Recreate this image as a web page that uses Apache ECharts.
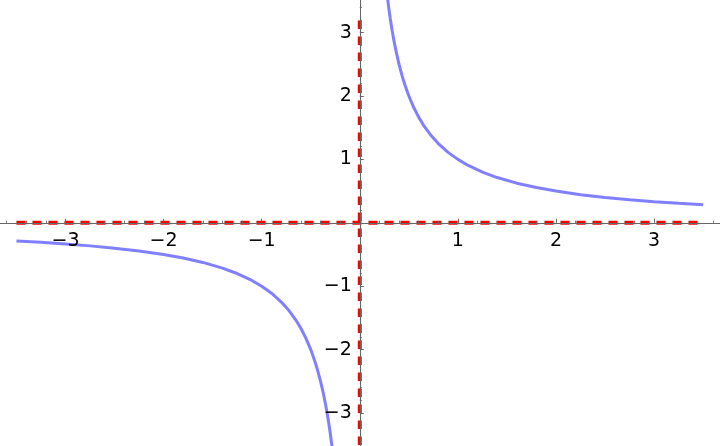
<!DOCTYPE html>
<html>
<head>
<meta charset="utf-8">
<script src="https://cdn.jsdelivr.net/npm/echarts@6/dist/echarts.min.js"></script>
<style>
html,body{margin:0;padding:0;background:#fff;}
#chart{width:720px;height:446px;}
</style>
</head>
<body>
<div id="chart"></div>
<script>
// Left branch of the curve
const xNeg = [-3.5, -3.25, -3, -2.75, -2.5, -2.25, -2, -1.8, -1.6, -1.4, -1.25, -1.1, -1, -0.9, -0.8, -0.72, -0.65, -0.6, -0.55, -0.5, -0.46, -0.43, -0.4, -0.375, -0.35, -0.33, -0.31, -0.295, -0.278];
const yNeg = [-0.286, -0.308, -0.333, -0.364, -0.4, -0.444, -0.5, -0.556, -0.625, -0.714, -0.8, -0.909, -1, -1.111, -1.25, -1.389, -1.538, -1.667, -1.818, -2, -2.174, -2.326, -2.5, -2.667, -2.857, -3.03, -3.226, -3.39, -3.597];
// Right branch of the curve
const xPos = [0.278, 0.295, 0.31, 0.33, 0.35, 0.375, 0.4, 0.43, 0.46, 0.5, 0.55, 0.6, 0.65, 0.72, 0.8, 0.9, 1, 1.1, 1.25, 1.4, 1.6, 1.8, 2, 2.25, 2.5, 2.75, 3, 3.25, 3.5];
const yPos = [3.597, 3.39, 3.226, 3.03, 2.857, 2.667, 2.5, 2.326, 2.174, 2, 1.818, 1.667, 1.538, 1.389, 1.25, 1.111, 1, 0.909, 0.8, 0.714, 0.625, 0.556, 0.5, 0.444, 0.4, 0.364, 0.333, 0.308, 0.286];
// Asymptotes (red dashed)
const hAsymX = [-3.5, 3.5];
const hAsymY = [0, 0];
const vAsymX = [0, 0];
const vAsymY = [3.19, -3.8];
// Tick labels
const xTickLabels = [-3, -2, -1, 1, 2, 3];
const yTickLabels = [-3, -2, -1, 1, 2, 3];

const zip = (a, b) => a.map((v, i) => [v, b[i]]);
const fmt = list => v => list.indexOf(v) >= 0 ? (v < 0 ? '\u2212' + (-v) : String(v)) : '';

const axisGray = '#666666';
const labelFont = { fontFamily: 'DejaVu Sans', fontSize: 19, color: '#000' };

// grid geometry (pixels): origin at (359.8, 222.8), 98.1 px/unit in x, 63.4 px/unit in y
const gLeft = -32.6, gWidth = 784.8, gTop = -30.8, gHeight = 507.2;

const chart = echarts.init(document.getElementById('chart'), null, { renderer: 'canvas' });
chart.setOption({
  animation: false,
  backgroundColor: '#fff',
  grid: { left: gLeft, width: gWidth, top: gTop, height: gHeight, containLabel: false, outerBoundsMode: 'none' },
  xAxis: {
    type: 'value', min: -4, max: 4, interval: 1, z: 5, position: 'bottom',
    offset: -(gTop + gHeight - 222.8),
    axisLine: { onZero: false, lineStyle: { color: axisGray, width: 1 } },
    axisTick: { show: true, inside: true, length: 4, lineStyle: { color: axisGray } },
    minorTick: { show: true, splitNumber: 5, length: 2, lineStyle: { color: axisGray } },
    splitLine: { show: false },
    axisLabel: Object.assign({ margin: 9, formatter: fmt(xTickLabels) }, labelFont)
  },
  yAxis: {
    type: 'value', min: -4, max: 4, interval: 1, z: 5, position: 'left',
    offset: -(359.8 - gLeft),
    axisLine: { onZero: false, lineStyle: { color: axisGray, width: 1 } },
    axisTick: { show: true, inside: true, length: 4, lineStyle: { color: axisGray } },
    minorTick: { show: true, splitNumber: 5, length: 2, lineStyle: { color: axisGray } },
    splitLine: { show: false },
    axisLabel: Object.assign({ margin: 8, formatter: fmt(yTickLabels) }, labelFont)
  },
  series: [
    { type: 'line', data: zip(xNeg, yNeg), showSymbol: false, smooth: false,
      lineStyle: { color: '#8080ff', width: 3 }, z: 2 },
    { type: 'line', data: zip(xPos, yPos), showSymbol: false, smooth: false,
      lineStyle: { color: '#8080ff', width: 3 }, z: 2 },
    { type: 'line', data: zip(hAsymX, hAsymY), showSymbol: false,
      lineStyle: { color: '#ff0000', width: 4, type: [9, 7] }, z: 3 },
    { type: 'line', data: zip(vAsymX, vAsymY), showSymbol: false,
      lineStyle: { color: '#ff0000', width: 4, type: [8.5, 7.5] }, z: 3 }
  ]
});
</script>
</body>
</html>
